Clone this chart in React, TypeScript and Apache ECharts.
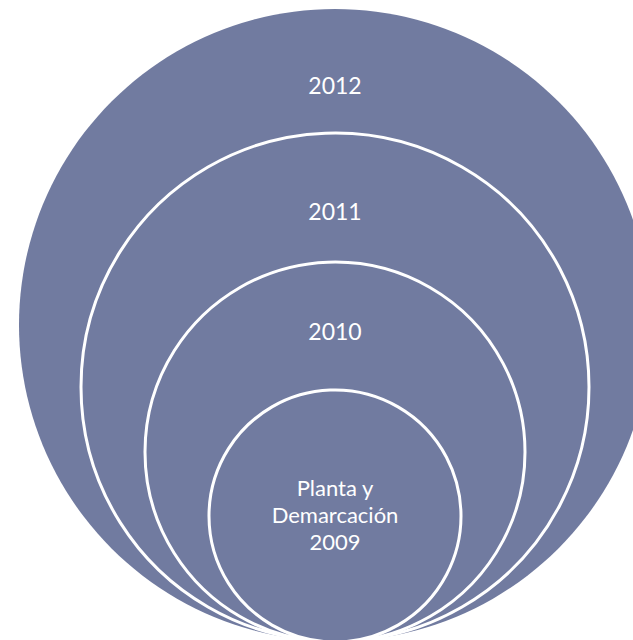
import React, { useEffect, useRef } from "react";
import * as echarts from "echarts";

// Labels of the nested circles, from outermost to innermost
const ringLabels: string[] = ["2012", "2011", "2010"];
const coreLabelLines: string[] = ["Planta y", "Demarcación", "2009"];

const FILL = "#717BA0";
const FONT = "Lato, 'Open Sans', sans-serif";

// layout (outer -> inner)
const CX = 335;
const circleLayout = [
  { cy: 325, r: 316, stroke: false },
  { cy: 387, r: 254, stroke: true },
  { cy: 452, r: 190, stroke: true },
  { cy: 516, r: 126, stroke: true },
];
const ringLabelY = [85, 211, 331];
const coreLineY = [487, 514, 541];

export default function App() {
  const ref = useRef<HTMLDivElement>(null);
  useEffect(() => {
    if (!ref.current) return;
    const chart = echarts.init(ref.current, undefined, { renderer: "svg" });
    const elements: any[] = [];
    circleLayout.forEach((c) => {
      elements.push({
        type: "circle",
        shape: { cx: CX, cy: c.cy, r: c.r },
        style: {
          fill: FILL,
          stroke: c.stroke ? "#ffffff" : "none",
          lineWidth: c.stroke ? 3 : 0,
        },
      });
    });
    ringLabels.forEach((t, i) => {
      elements.push({
        type: "text",
        x: CX,
        y: ringLabelY[i],
        style: {
          text: t,
          fill: "#ffffff",
          font: `23px ${FONT}`,
          align: "center",
          verticalAlign: "middle",
        },
      });
    });
    coreLabelLines.forEach((t, i) => {
      elements.push({
        type: "text",
        x: CX,
        y: coreLineY[i],
        style: {
          text: t,
          fill: "#ffffff",
          font: `22px ${FONT}`,
          align: "center",
          verticalAlign: "middle",
        },
      });
    });
    chart.setOption({
      animation: false,
      backgroundColor: "#ffffff",
      graphic: { elements },
    });
    return () => chart.dispose();
  }, []);
  return (
    <div
      ref={ref}
      style={{ position: "fixed", left: 0, top: 0, width: 633, height: 640 }}
    />
  );
}
